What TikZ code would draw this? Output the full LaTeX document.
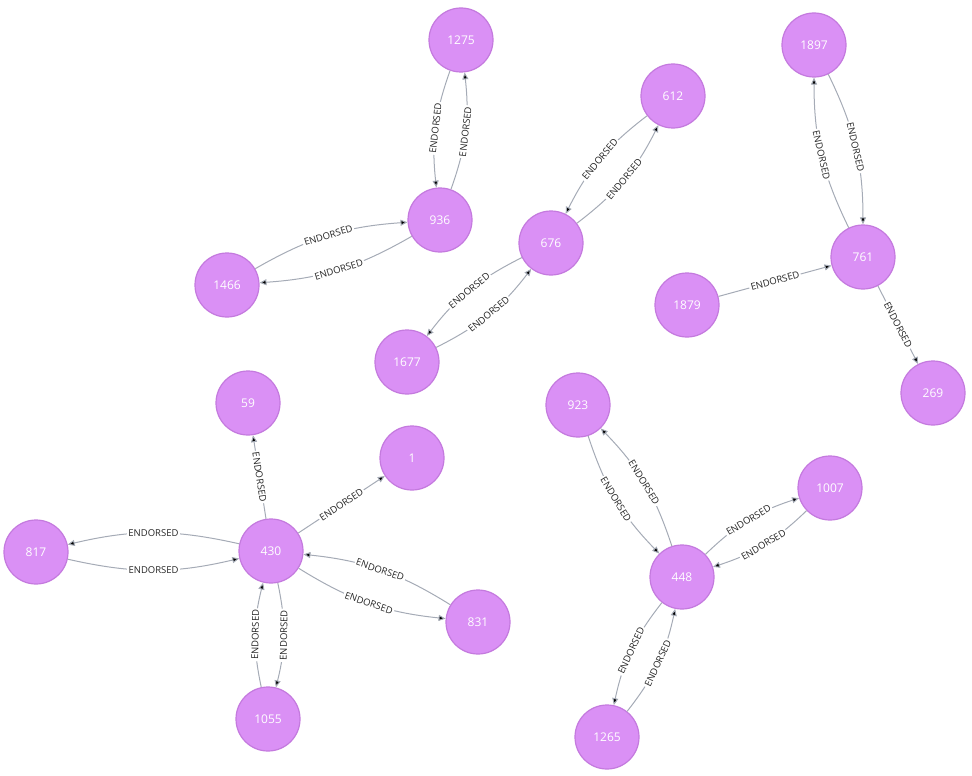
\documentclass[tikz,border=0pt]{standalone}
\usepackage{fontspec}
\setmainfont{Open Sans}
\usetikzlibrary{arrows.meta,positioning}
\definecolor{nodefill}{RGB}{218,144,245}
\definecolor{nodeline}{RGB}{196,122,222}
\definecolor{relline}{RGB}{165,171,182}

\begin{document}
\begin{tikzpicture}
    [x=1pt, y=1pt, font=\small,
    % STYLES
    % The person style is used to draw each node of the graph
    person/.style={circle, draw=nodeline, fill=nodefill, line width=1.2pt, minimum size=64pt, inner sep=0pt, text=white, font=\fontsize{12}{12}\selectfont},
    % The rel style is used to draw the relationships
    rel/.style={draw=relline, line width=1pt, -{Triangle[length=7pt,width=6pt]}},
    % The endorsed style is used to write the relationships' type
    endorsed/.style={fill=white, inner sep=1.5pt, sloped, midway, text=black!85, font=\fontsize{9.5}{9.5}\selectfont}]

    \useasboundingbox (0,0) rectangle (972,-776);

    % Draw nodes
    \node [person] (n1275) at (461,-40) {1275};
    \node [person] (n936) at (440,-220) {936};
    \node [person] (n1466) at (227,-285) {1466};
    \node [person] (n612) at (673,-96) {612};
    \node [person] (n676) at (551,-243) {676};
    \node [person] (n1677) at (407,-362) {1677};
    \node [person] (n1879) at (687,-305) {1879};
    \node [person] (n1897) at (814,-45) {1897};
    \node [person] (n761) at (863,-257) {761};
    \node [person] (n269) at (933,-393) {269};
    \node [person] (n59) at (248,-403) {59};
    \node [person] (n1) at (412,-458) {1};
    \node [person] (n817) at (36,-552) {817};
    \node [person] (n430) at (271,-551) {430};
    \node [person] (n831) at (478,-622) {831};
    \node [person] (n1055) at (268,-719) {1055};
    \node [person] (n923) at (578,-405) {923};
    \node [person] (n1007) at (830,-488) {1007};
    \node [person] (n448) at (682,-577) {448};
    \node [person] (n1265) at (607,-737) {1265};

    % Draw relationships
    \path[rel]
    (n1275) edge[bend right=13] node[endorsed] {ENDORSED} (n936)
    (n936) edge[bend right=13] node[endorsed] {ENDORSED} (n1275)
    (n1466) edge[bend left=13] node[endorsed] {ENDORSED} (n936)
    (n936) edge[bend left=13] node[endorsed] {ENDORSED} (n1466)
    (n612) edge[bend right=13] node[endorsed] {ENDORSED} (n676)
    (n676) edge[bend right=13] node[endorsed] {ENDORSED} (n612)
    (n676) edge[bend right=13] node[endorsed] {ENDORSED} (n1677)
    (n1677) edge[bend right=13] node[endorsed] {ENDORSED} (n676)
    (n761) edge[bend left=13] node[endorsed] {ENDORSED} (n1897)
    (n1897) edge[bend left=13] node[endorsed] {ENDORSED} (n761)
    (n1879) edge node[endorsed] {ENDORSED} (n761)
    (n761) edge node[endorsed] {ENDORSED} (n269)
    (n430) edge node[endorsed] {ENDORSED} (n59)
    (n430) edge[bend right=13] node[endorsed] {ENDORSED} (n817)
    (n817) edge[bend right=13] node[endorsed] {ENDORSED} (n430)
    (n430) edge node[endorsed] {ENDORSED} (n1)
    (n831) edge[bend right=13] node[endorsed] {ENDORSED} (n430)
    (n430) edge[bend right=13] node[endorsed] {ENDORSED} (n831)
    (n1055) edge[bend left=13] node[endorsed] {ENDORSED} (n430)
    (n430) edge[bend left=13] node[endorsed] {ENDORSED} (n1055)
    (n923) edge[bend right=13] node[endorsed] {ENDORSED} (n448)
    (n448) edge[bend right=13] node[endorsed] {ENDORSED} (n923)
    (n448) edge[bend left=13] node[endorsed] {ENDORSED} (n1007)
    (n1007) edge[bend left=13] node[endorsed] {ENDORSED} (n448)
    (n448) edge[bend right=13] node[endorsed] {ENDORSED} (n1265)
    (n1265) edge[bend right=13] node[endorsed] {ENDORSED} (n448);
\end{tikzpicture}
\end{document}
